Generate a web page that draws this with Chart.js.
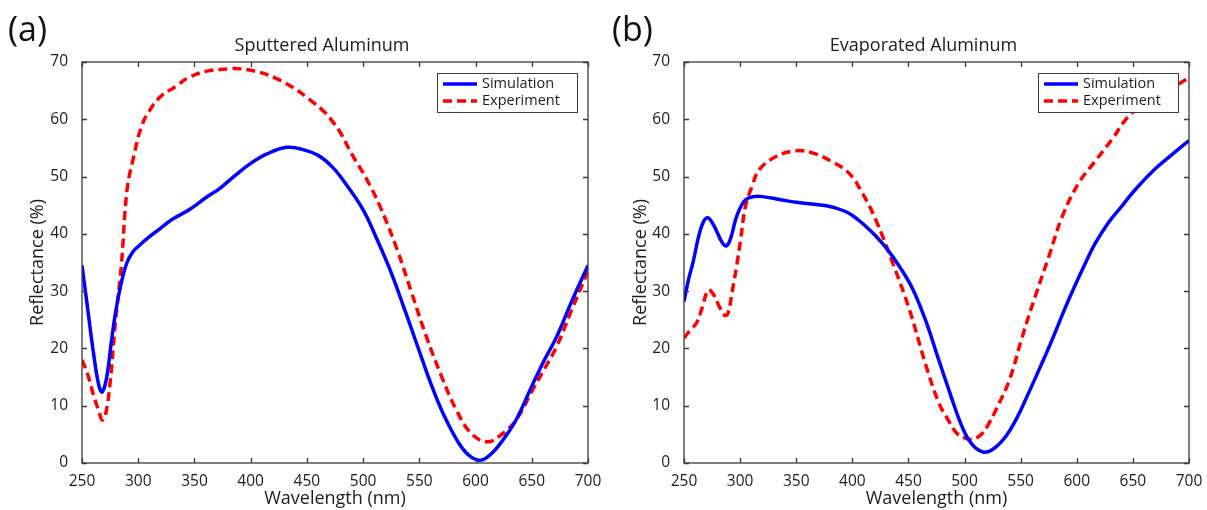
<!DOCTYPE html>
<html>
<head>
<meta charset="utf-8">
<script src="https://cdn.jsdelivr.net/npm/chart.js@4.4.1/dist/chart.umd.min.js"></script>
<style>
html, body { margin: 0; padding: 0; background: #fff; }
#wrap { position: relative; width: 1207px; height: 510px; }
canvas { position: absolute; top: 0; }
</style>
</head>
<body>
<div id="wrap">
  <canvas id="chartA" width="603" height="510" style="left:0"></canvas>
  <canvas id="chartB" width="604" height="510" style="left:603px"></canvas>
</div>
<script>
// axis ticks
var xTicks = [250, 300, 350, 400, 450, 500, 550, 600, 650, 700];
var yTicks = [0, 10, 20, 30, 40, 50, 60, 70];

// (a) sputtered aluminum
var sputSimNm = [250, 255, 260, 265, 268, 272, 276, 280, 285, 290, 295, 300, 310, 320, 330, 346, 360, 373, 385, 400, 415, 432, 445, 460, 473, 485, 500, 512, 524, 536, 547.5, 560, 571, 585, 595, 605, 615, 625, 636, 650, 660, 672, 685, 700];
var sputSimR = [34.5, 27, 19.5, 13.5, 12.4, 15, 21, 26.5, 31.5, 35, 36.8, 37.8, 39.5, 41, 42.5, 44.3, 46.3, 48, 50, 52.3, 54, 55.1, 54.8, 53.7, 51.6, 48.6, 44.2, 39.2, 33.7, 27.3, 20.9, 14, 8.7, 3.5, 1.2, 0.5, 1.8, 4.2, 7.5, 13.4, 17.5, 22, 28, 34.5];
var sputExpNm = [250, 255, 260, 265, 268, 271, 275, 279.6, 285, 290, 296, 303, 310, 320, 334, 344, 361, 380, 391, 408, 422, 438, 452, 466, 474, 480, 490, 503, 515, 530, 543, 556, 570, 583, 596, 610, 622, 636, 650, 660, 672, 685, 700];
var sputExpR = [18, 15.5, 12, 9, 7.5, 8.5, 14, 24.4, 34.5, 47.6, 53.5, 58.8, 61.5, 64, 65.8, 67.2, 68.4, 68.8, 68.8, 68.2, 67.2, 65.5, 63.5, 61.2, 59.3, 57.6, 53.9, 49.6, 44.8, 37.4, 29.8, 22.2, 15, 9.2, 5.2, 3.7, 4.8, 7.5, 12.5, 16, 20.3, 26.5, 33.5];

// (b) evaporated aluminum
var evapSimNm = [250, 254, 258, 263, 267, 271, 275, 279, 284, 288, 292, 296, 300, 305, 312, 320, 335, 350, 377, 394, 405, 412, 420, 430, 442, 454, 466, 477, 487, 495, 502, 510, 519, 528, 537, 547, 557, 568, 578, 588, 598, 607, 616, 628, 640, 652, 669, 684, 700];
var evapSimR = [28.2, 32, 35, 39.5, 42, 42.8, 42, 40.5, 38.5, 37.9, 39.5, 42.5, 44.5, 46, 46.5, 46.5, 46, 45.5, 44.9, 43.9, 42.5, 41.3, 39.8, 37.6, 34.3, 30.3, 24.5, 18, 12.2, 7.7, 4.6, 2.6, 1.9, 2.8, 4.7, 8, 12.2, 17, 21.5, 26.3, 30.8, 34.6, 38.2, 41.9, 44.8, 47.7, 51.2, 53.7, 56.3];
var evapExpNm = [250, 256, 261, 266, 271.6, 276, 281, 286, 289, 293, 297, 300, 305, 311, 317, 332, 350, 365, 382, 397, 409, 421, 436, 451, 465, 477, 484, 493, 500, 506, 511, 516, 522, 528, 540, 551.5, 563, 575, 587, 601.5, 616, 631, 646, 660, 680, 700];
var evapExpR = [21.8, 23.3, 24.4, 27, 30.2, 29.5, 27.5, 25.8, 26, 30, 34.5, 38.4, 45, 48.5, 51.2, 53.5, 54.5, 54.1, 52.6, 50.6, 47.1, 42.4, 34.9, 26.7, 17.4, 10.5, 8, 5.2, 4.4, 4.1, 4.4, 5.2, 7, 9.3, 14.5, 22.1, 29.1, 36, 43, 48.8, 52.6, 56.4, 60.5, 62.6, 64.8, 67.3];

var FONT = '"Open Sans", sans-serif';
var TEXT = '#1c1c1c';
var AXIS = '#3a3a3a';
var BLUE = '#0000ff';
var RED = '#ff0000';

function zip(xs, ys) {
    return xs.map(function(x, i) { return { x: x, y: ys[i] }; });
}

// box, inward ticks, panel letter, title and legend
var frame = {
    id: 'frame',
    afterDraw: function(chart, args, opts) {
        var ctx = chart.ctx;
        var a = chart.chartArea;
        var xs = chart.scales.x, ys = chart.scales.y;
        ctx.save();
        ctx.strokeStyle = AXIS;
        ctx.lineWidth = 1.3;
        ctx.strokeRect(a.left, a.top, a.right - a.left, a.bottom - a.top);
        ctx.beginPath();
        xs.ticks.forEach(function(t) {
            var px = Math.round(xs.getPixelForValue(t.value)) + 0.5;
            ctx.moveTo(px, a.bottom); ctx.lineTo(px, a.bottom - 5);
            ctx.moveTo(px, a.top); ctx.lineTo(px, a.top + 5);
        });
        ys.ticks.forEach(function(t) {
            var py = Math.round(ys.getPixelForValue(t.value)) + 0.5;
            ctx.moveTo(a.left, py); ctx.lineTo(a.left + 5, py);
            ctx.moveTo(a.right, py); ctx.lineTo(a.right - 5, py);
        });
        ctx.stroke();

        ctx.fillStyle = '#111';
        ctx.textAlign = 'left';
        ctx.textBaseline = 'alphabetic';
        ctx.font = '34px ' + FONT;
        ctx.fillText(opts.letter, opts.letterX, 41);

        ctx.fillStyle = TEXT;
        ctx.textAlign = 'center';
        ctx.font = '18px ' + FONT;
        ctx.fillText(opts.title, (a.left + a.right) / 2 - 13, 51);

        // legend
        var bw = 140, bh = 39;
        var bx = a.right - 11 - bw, by = a.top + 11;
        ctx.fillStyle = '#fff';
        ctx.fillRect(bx, by, bw, bh);
        ctx.strokeStyle = AXIS;
        ctx.lineWidth = 1;
        ctx.strokeRect(bx + 0.5, by + 0.5, bw, bh);
        ctx.font = '14.5px ' + FONT;
        ctx.textAlign = 'left';
        ctx.textBaseline = 'middle';
        chart.data.datasets.forEach(function(ds, i) {
            var cy = by + 11 + i * 17;
            ctx.beginPath();
            ctx.strokeStyle = ds.borderColor;
            ctx.lineWidth = ds.borderWidth;
            ctx.setLineDash(ds.borderDash || []);
            ctx.moveTo(bx + 6, cy);
            ctx.lineTo(bx + 40, cy);
            ctx.stroke();
            ctx.setLineDash([]);
            ctx.fillStyle = TEXT;
            ctx.fillText(ds.label, bx + 45, cy);
        });
        ctx.restore();
    }
};

function makeChart(id, cfg) {
    return new Chart(document.getElementById(id), {
        type: 'line',
        data: {
            datasets: [{
                label: 'Simulation',
                data: zip(cfg.simNm, cfg.simR),
                borderColor: BLUE,
                borderWidth: 3.5,
                pointRadius: 0,
                tension: 0.4,
                fill: false
            }, {
                label: 'Experiment',
                data: zip(cfg.expNm, cfg.expR),
                borderColor: RED,
                borderWidth: 3.5,
                borderDash: [9, 5],
                pointRadius: 0,
                tension: 0.4,
                fill: false
            }]
        },
        options: {
            responsive: false,
            animation: false,
            events: [],
            layout: { padding: { top: 62, right: cfg.padRight, bottom: 0, left: 0 } },
            plugins: {
                legend: { display: false },
                tooltip: { enabled: false },
                frame: { letter: cfg.letter, letterX: cfg.letterX, title: cfg.title }
            },
            scales: {
                x: {
                    type: 'linear',
                    min: 250,
                    max: 700,
                    afterBuildTicks: function(s) { s.ticks = xTicks.map(function(v) { return { value: v }; }); },
                    afterFit: function(s) { s.height = 47; },
                    grid: { display: false },
                    border: { display: false },
                    ticks: { color: TEXT, font: { family: FONT, size: 15.5 }, padding: 1, maxRotation: 0, autoSkip: false },
                    title: { display: true, text: 'Wavelength (nm)', color: TEXT, font: { family: FONT, size: 18 }, padding: { top: 0, bottom: 0 } }
                },
                y: {
                    min: 0,
                    max: 70,
                    afterBuildTicks: function(s) { s.ticks = yTicks.map(function(v) { return { value: v }; }); },
                    afterFit: function(s) { s.width = cfg.yWidth; },
                    grid: { display: false },
                    border: { display: false },
                    ticks: { color: TEXT, font: { family: FONT, size: 15.5 }, padding: 6 },
                    title: { display: true, text: 'Reflectance (%)', color: TEXT, font: { family: FONT, size: 18 }, padding: { top: 27, bottom: 0 } }
                }
            }
        },
        plugins: [frame]
    });
}

makeChart('chartA', {
    simNm: sputSimNm, simR: sputSimR, expNm: sputExpNm, expR: sputExpR,
    title: 'Sputtered Aluminum', letter: '(a)', letterX: 8,
    yWidth: 82, padRight: 15
});
makeChart('chartB', {
    simNm: evapSimNm, simR: evapSimR, expNm: evapExpNm, expR: evapExpR,
    title: 'Evaporated Aluminum', letter: '(b)', letterX: 9,
    yWidth: 81, padRight: 18
});
</script>
</body>
</html>
